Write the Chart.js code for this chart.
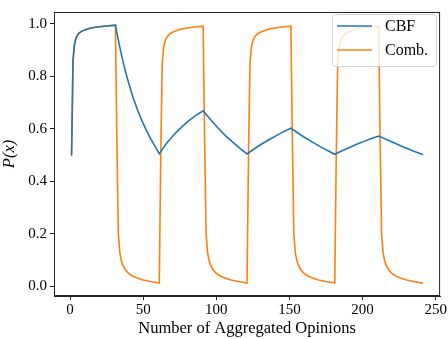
<!DOCTYPE html>
<html>
<head>
<meta charset="utf-8">
<script src="https://cdn.jsdelivr.net/npm/chart.js@4/dist/chart.umd.min.js"></script>
<style>
  html, body { margin: 0; padding: 0; background: #fff; }
  #wrap { width: 448px; height: 339px; }
</style>
</head>
<body>
<div id="wrap"><canvas id="chart" width="448" height="339"></canvas></div>
<script>
// values
const seriesNames = ['CBF', 'Comb.'];

const cbfX = [1, 2, 3, 4, 5, 6, 8, 10, 13, 16, 20, 25, 31,
  32, 33, 34, 36, 38, 40, 43, 46, 49, 52, 55, 58, 61,
  66, 71, 76, 81, 86, 91,
  96, 101, 106, 111, 116, 121,
  126, 131, 136, 141, 146, 151,
  156, 161, 166, 171, 176, 181,
  186, 191, 196, 201, 206, 211,
  216, 221, 226, 231, 236, 241];
const cbfY = [0.5, 0.86, 0.92, 0.945, 0.955, 0.963, 0.971, 0.976, 0.981, 0.985, 0.988, 0.991, 0.994,
  0.965, 0.937, 0.91, 0.86, 0.815, 0.775, 0.72, 0.673, 0.632, 0.596, 0.563, 0.534, 0.505,
  0.545, 0.577, 0.605, 0.63, 0.651, 0.668,
  0.635, 0.604, 0.575, 0.55, 0.526, 0.504,
  0.524, 0.542, 0.558, 0.574, 0.589, 0.602,
  0.583, 0.565, 0.548, 0.532, 0.517, 0.503,
  0.516, 0.529, 0.541, 0.552, 0.563, 0.572,
  0.56, 0.548, 0.535, 0.524, 0.513, 0.502];

const combX = [1, 2, 3, 4, 5, 6, 8, 10, 13, 16, 20, 25, 31,
  32, 33, 34, 35, 36, 38, 40, 43, 46, 50, 55, 61,
  62, 63, 64, 65, 66, 68, 70, 73, 76, 80, 85, 91,
  92, 93, 94, 95, 96, 98, 100, 103, 106, 110, 115, 121,
  122, 123, 124, 125, 126, 128, 130, 133, 136, 140, 145, 151,
  152, 153, 154, 155, 156, 158, 160, 163, 166, 170, 175, 181,
  182, 183, 184, 185, 186, 188, 190, 193, 196, 200, 205, 211,
  212, 213, 214, 215, 216, 218, 220, 223, 226, 230, 235, 241];
const combY = [0.5, 0.86, 0.92, 0.945, 0.955, 0.963, 0.971, 0.976, 0.981, 0.985, 0.988, 0.991, 0.994,
  0.55, 0.2, 0.13, 0.1, 0.082, 0.062, 0.05, 0.039, 0.032, 0.025, 0.019, 0.013,
  0.5, 0.85, 0.91, 0.935, 0.947, 0.96, 0.967, 0.974, 0.979, 0.983, 0.987, 0.99,
  0.55, 0.2, 0.13, 0.1, 0.082, 0.062, 0.05, 0.039, 0.032, 0.025, 0.019, 0.013,
  0.5, 0.85, 0.91, 0.935, 0.947, 0.96, 0.967, 0.974, 0.979, 0.983, 0.987, 0.99,
  0.55, 0.2, 0.13, 0.1, 0.082, 0.062, 0.05, 0.039, 0.032, 0.025, 0.019, 0.013,
  0.5, 0.85, 0.91, 0.935, 0.947, 0.96, 0.967, 0.974, 0.979, 0.983, 0.987, 0.99,
  0.55, 0.2, 0.13, 0.1, 0.082, 0.062, 0.05, 0.039, 0.032, 0.025, 0.019, 0.013];

const xTicks = [0, 50, 100, 150, 200, 250];
const yTicks = [0, 0.2, 0.4, 0.6, 0.8, 1.0];

const colors = ['#1f77b4', '#ff7f0e'];
const serif = '"Liberation Serif", "DejaVu Serif", serif';

function toPoints (xs, ys) {
  return xs.map((x, i) => ({ x: x, y: ys[i] }));
}

// matplotlib-like box around the axes plus legend in the top right corner
const framePlugin = {
  id: 'frame',
  afterDraw (chart) {
    const ctx = chart.ctx;
    const a = chart.chartArea;
    ctx.save();
    ctx.strokeStyle = '#222';
    ctx.lineWidth = 1;
    ctx.strokeRect(a.left + 0.5, a.top + 0.5, a.right - a.left - 1, a.bottom - a.top - 1);

    // legend
    const bx = 332, by = 14, bw = 104, bh = 52;
    ctx.fillStyle = 'rgba(255,255,255,0.8)';
    ctx.strokeStyle = '#d0d0d0';
    ctx.beginPath();
    ctx.roundRect(bx + 0.5, by + 0.5, bw, bh, 3);
    ctx.fill();
    ctx.stroke();
    ctx.font = '16px ' + serif;
    ctx.textBaseline = 'middle';
    chart.data.datasets.forEach((ds, i) => {
      const ly = by + 12 + i * 24;
      ctx.strokeStyle = ds.borderColor;
      ctx.lineWidth = 1.5;
      ctx.beginPath();
      ctx.moveTo(bx + 5, ly);
      ctx.lineTo(bx + 40, ly);
      ctx.stroke();
      ctx.fillStyle = '#000';
      ctx.fillText(ds.label, bx + 53, ly + 1);
    });
    ctx.restore();
  }
};

new Chart(document.getElementById('chart'), {
  type: 'scatter',
  data: {
    datasets: [
      {
        label: seriesNames[0],
        data: toPoints(cbfX, cbfY),
        showLine: true,
        borderColor: colors[0],
        backgroundColor: colors[0],
        borderWidth: 1.6,
        borderCapStyle: 'round',
        pointRadius: 0
      },
      {
        label: seriesNames[1],
        data: toPoints(combX, combY),
        showLine: true,
        borderColor: colors[1],
        backgroundColor: colors[1],
        borderWidth: 1.6,
        borderCapStyle: 'round',
        pointRadius: 0
      }
    ]
  },
  options: {
    responsive: false,
    animation: false,
    layout: { padding: { top: 5, right: 4, left: 0, bottom: 0 } },
    plugins: {
      legend: { display: false },
      tooltip: { enabled: false }
    },
    scales: {
      x: {
        type: 'linear',
        min: -11,
        max: 253,
        afterBuildTicks: (scale) => { scale.ticks = xTicks.map(v => ({ value: v })); },
        afterFit: (scale) => { scale.height = 43; },
        grid: { drawOnChartArea: false, drawTicks: true, tickLength: 4, color: '#222' },
        border: { display: true, color: '#222' },
        ticks: { color: '#000', font: { family: serif, size: 15 }, padding: 1, maxRotation: 0 },
        title: {
          display: true,
          text: 'Number of Aggregated Opinions',
          color: '#000',
          font: { family: serif, size: 16.5 },
          padding: { top: 0, bottom: 0 }
        }
      },
      y: {
        min: -0.036,
        max: 1.044,
        afterBuildTicks: (scale) => { scale.ticks = yTicks.map(v => ({ value: v })); },
        afterFit: (scale) => { scale.width = 54; },
        grid: { drawOnChartArea: false, drawTicks: true, tickLength: 4, color: '#222' },
        border: { display: true, color: '#222' },
        ticks: {
          color: '#000',
          font: { family: serif, size: 15 },
          padding: 3,
          callback: (v) => v.toFixed(1)
        },
        title: {
          display: true,
          text: 'P(x)',
          color: '#000',
          font: { family: serif, size: 16.5, style: 'italic' },
          padding: { top: 0, bottom: 1 }
        }
      }
    }
  },
  plugins: [framePlugin]
});
</script>
</body>
</html>
